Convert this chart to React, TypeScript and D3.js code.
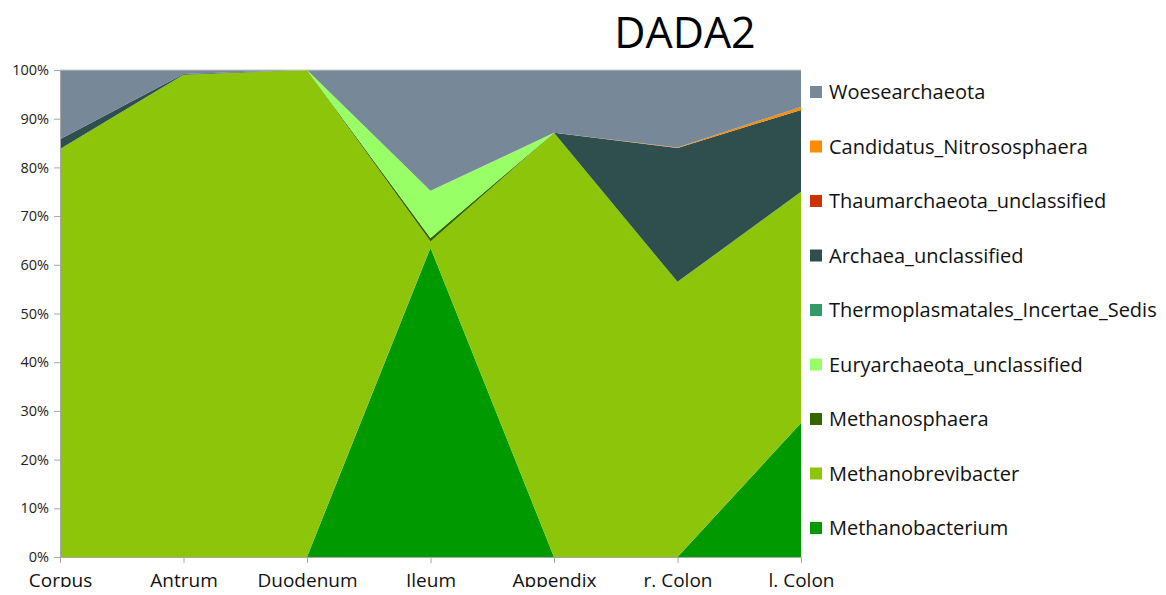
import { useRef, useEffect } from "react"
import * as d3 from "d3"

const sites = ["Corpus", "Antrum", "Duodenum", "Ileum", "Appendix", "r. Colon", "l. Colon"]

// bottom-to-top stacking order, percentages per site
const methanobacterium = [0, 0, 0, 63.5, 0, 0, 27.5]
const methanobrevibacter = [83.8, 99.0, 100, 1.3, 87.1, 56.5, 47.5]
const methanosphaera = [0, 0, 0, 0.7, 0, 0, 0]
const euryarchaeotaUnclassified = [0, 0, 0, 9.7, 0, 0, 0]
const thermoplasmatales = [0, 0, 0, 0, 0, 0, 0]
const archaeaUnclassified = [2.0, 0.2, 0, 0, 0, 27.5, 16.8]
const thaumarchaeota = [0, 0, 0, 0, 0, 0, 0]
const candidatusNitrososphaera = [0, 0, 0, 0, 0, 0.1, 0.6]
const woesearchaeota = [14.2, 0.8, 0, 24.8, 12.9, 15.9, 7.6]

const seriesNames = [
  "Methanobacterium",
  "Methanobrevibacter",
  "Methanosphaera",
  "Euryarchaeota_unclassified",
  "Thermoplasmatales_Incertae_Sedis",
  "Archaea_unclassified",
  "Thaumarchaeota_unclassified",
  "Candidatus_Nitrososphaera",
  "Woesearchaeota",
]
const seriesValues = [
  methanobacterium,
  methanobrevibacter,
  methanosphaera,
  euryarchaeotaUnclassified,
  thermoplasmatales,
  archaeaUnclassified,
  thaumarchaeota,
  candidatusNitrososphaera,
  woesearchaeota,
]
const colors = ["#009900", "#8dc50b", "#336600", "#99ff66", "#339966", "#2f4f4f", "#cc3300", "#ff8c00", "#778899"]

const yTicks = [0, 0.1, 0.2, 0.3, 0.4, 0.5, 0.6, 0.7, 0.8, 0.9, 1]

const App = () => {
  const svgRef = useRef<SVGSVGElement>(null)

  useEffect(() => {
    const root = d3.select(svgRef.current)
    root.selectAll("*").remove()

    const font = "Open Sans, sans-serif"
    const left = 60, right = 801, top = 70, bottom = 557

    const rows = sites.map((s, i) => {
      const r: any = { site: s }
      seriesNames.forEach((n, k) => (r[n] = seriesValues[k][i]))
      return r
    })
    const stacked = d3.stack().keys(seriesNames).offset(d3.stackOffsetExpand)(rows)

    const x = d3.scalePoint().domain(sites).range([left, right])
    const y = d3.scaleLinear().domain([0, 1]).range([bottom, top])

    const area = d3
      .area<any>()
      .x((d) => x(d.data.site)!)
      .y0((d) => y(d[0]))
      .y1((d) => y(d[1]))

    root
      .append("g")
      .selectAll("path")
      .data(stacked)
      .enter()
      .append("path")
      .attr("d", area)
      .attr("fill", (d, i) => colors[i])

    // frame line on top
    root.append("line").attr("x1", left).attr("x2", right).attr("y1", top).attr("y2", top)
      .attr("stroke", "#c8c8c8").attr("stroke-width", 1)

    // y axis
    const yAxis = root
      .append("g")
      .attr("transform", `translate(${left},0)`)
      .call(d3.axisLeft(y).tickValues(yTicks).tickSize(6).tickPadding(5).tickFormat(d3.format(".0%")))
    yAxis.selectAll("path, line").attr("stroke", "#a6a6a6")
    yAxis.selectAll("text").attr("font-family", font).attr("font-size", 14.5).attr("fill", "#222")

    // x axis
    const xAxis = root
      .append("g")
      .attr("transform", `translate(0,${bottom})`)
      .call(d3.axisBottom(x).tickSize(6).tickPadding(11))
    xAxis.selectAll("path, line").attr("stroke", "#a6a6a6")
    xAxis.selectAll("text").attr("font-family", font).attr("font-size", 19).attr("fill", "#111")

    // title
    root
      .append("text")
      .attr("x", 685)
      .attr("y", 48)
      .attr("text-anchor", "middle")
      .attr("font-family", font)
      .attr("font-size", 43)
      .attr("font-weight", 500)
      .attr("fill", "#000")
      .text("DADA2")

    // legend, top-to-bottom reversed
    const legendItems = seriesNames.map((n, i) => ({ name: n, color: colors[i] })).reverse()
    const legend = root
      .append("g")
      .selectAll("g")
      .data(legendItems)
      .enter()
      .append("g")
      .attr("transform", (d, i) => `translate(810,${92 + i * 54.5})`)
    legend.append("rect").attr("x", 0).attr("y", -6).attr("width", 12).attr("height", 12).attr("fill", (d) => d.color)
    legend
      .append("text")
      .attr("x", 19)
      .attr("y", 7)
      .attr("font-family", font)
      .attr("font-size", 20)
      .attr("fill", "#111")
      .text((d) => d.name)
  }, [])

  return (
    <div style={{ width: 1166, height: 595, margin: -8, background: "#fff" }}>
      <svg ref={svgRef} width={1166} height={595}></svg>
    </div>
  )
}

export default App
